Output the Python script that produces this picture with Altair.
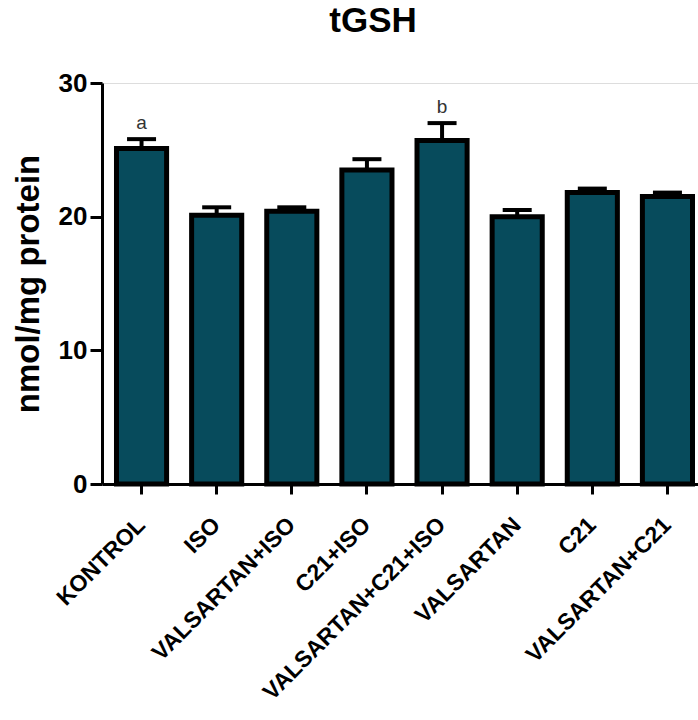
import altair as alt
import pandas as pd

# Group means, SEM and significance letters for tGSH
groups = ["KONTROL", "ISO", "VALSARTAN+ISO", "C21+ISO",
          "VALSARTAN+C21+ISO", "VALSARTAN", "C21", "VALSARTAN+C21"]
means = [25.1, 20.1, 20.4, 23.5, 25.7, 20.0, 21.8, 21.5]
sems = [0.7, 0.6, 0.3, 0.8, 1.3, 0.5, 0.3, 0.3]
letters = ["a", "", "", "", "b", "", "", ""]
y_ticks = [0, 10, 20, 30]

df = pd.DataFrame({"group": groups, "mean": means, "sem": sems, "letter": letters})
df["upper"] = df["mean"] + df["sem"]

FONT = "Liberation Sans"
FILL = "#074B5C"

x = alt.X(
    "group:N",
    sort=groups,
    scale=alt.Scale(paddingInner=0.333, paddingOuter=0.133, align=0.725),
    axis=alt.Axis(
        title=None,
        labelAngle=-45,
        labelAlign="right",
        labelBaseline="middle",
        labelFont=FONT,
        labelFontSize=23,
        labelFontWeight="bold",
        labelColor="black",
        labelPadding=27,
        labelLimit=0,
        labelOverlap=False,
        tickSize=10,
        tickWidth=3,
        tickColor="black",
        domainWidth=3,
        domainColor="black",
        grid=False,
    ),
)

y_scale = alt.Scale(domain=[0, 30], nice=False)
y_axis = alt.Axis(
    values=y_ticks,
    title="nmol/mg protein",
    titleFont=FONT,
    titleFontSize=33,
    titleFontWeight="bold",
    titleColor="black",
    titlePadding=13,
    labelFont=FONT,
    labelFontSize=26,
    labelFontWeight="bold",
    labelColor="black",
    labelPadding=3,
    tickSize=12,
    tickWidth=3,
    tickColor="black",
    domainWidth=3,
    domainColor="black",
    grid=False,
    gridOpacity=0,
)

bars = alt.Chart(df).mark_bar(
    fill=FILL, stroke="black", strokeWidth=5
).encode(
    x=x,
    y=alt.Y("mean:Q", scale=y_scale, axis=y_axis),
)

err = alt.Chart(df).mark_rule(color="black", strokeWidth=4).encode(
    x=x, y=alt.Y("mean:Q", scale=y_scale, axis=y_axis), y2="upper:Q"
)

caps = alt.Chart(df).mark_tick(color="black", size=29, thickness=4, opacity=1).encode(
    x=x, y=alt.Y("upper:Q", scale=y_scale, axis=y_axis)
)

labels = alt.Chart(df).mark_text(
    font=FONT, fontSize=19, color="#333333", baseline="alphabetic", dy=-10
).encode(x=x, y=alt.Y("upper:Q", scale=y_scale, axis=y_axis), text="letter:N")

chart = (
    alt.layer(err, bars, caps, labels)
    .properties(
        width=596,
        height=401,
        title=alt.TitleParams(
            "tGSH", font=FONT, fontSize=35, fontWeight="bold", color="black",
            anchor="middle", dx=-27, offset=31,
        ),
        autosize=alt.AutoSizeParams(type="none"),
        padding={"left": 102, "top": 83, "right": 0, "bottom": 230},
    )
    .configure_axis(grid=False, gridOpacity=0, gridColor="white")
    .configure_axisY(grid=False, gridOpacity=0)
    .configure_view(stroke=None)
    .configure(background="white")
)

chart.save("out.html", embed_options={"renderer": "svg", "actions": False})
